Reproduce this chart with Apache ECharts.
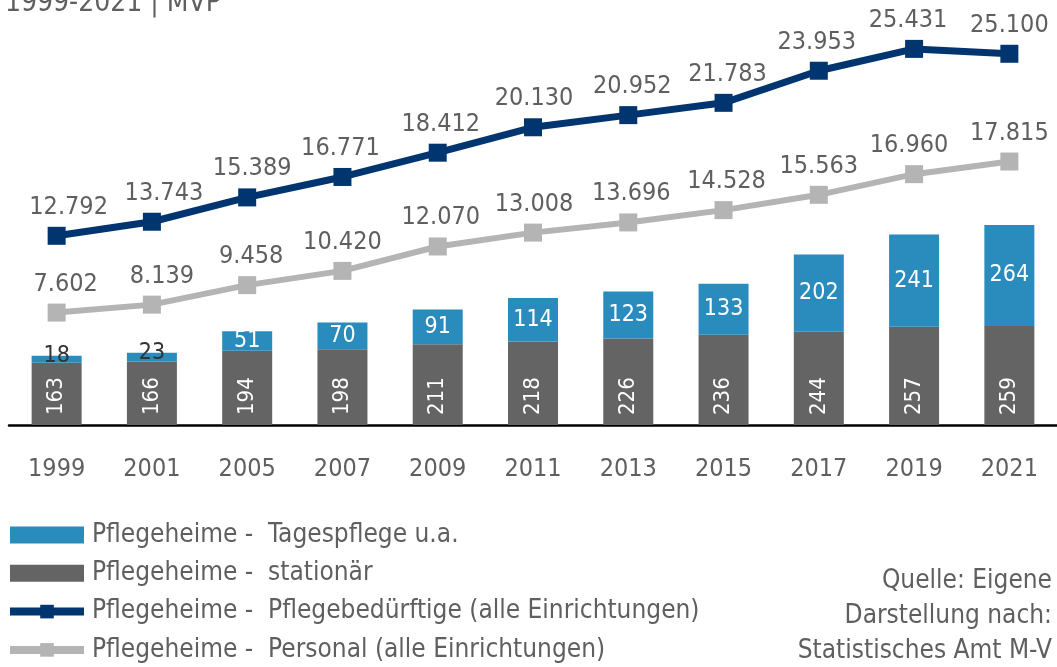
<!DOCTYPE html>
<html>
<head>
<meta charset="utf-8">
<script src="https://cdn.jsdelivr.net/npm/echarts@6/dist/echarts.min.js"></script>
<style>
  html, body { margin: 0; padding: 0; background: #fff; }
  #chart { width: 1057px; height: 667px; }
</style>
</head>
<body>
<div id="chart"></div>
<script>
// Daten
var years = ['1999', '2001', '2005', '2007', '2009', '2011', '2013', '2015', '2017', '2019', '2021'];
var stationaer = [163, 166, 194, 198, 211, 218, 226, 236, 244, 257, 259];
var tagespflege = [18, 23, 51, 70, 91, 114, 123, 133, 202, 241, 264];
var pflegebeduerftige = [12792, 13743, 15389, 16771, 18412, 20130, 20952, 21783, 23953, 25431, 25100];
var personal = [7602, 8139, 9458, 10420, 12070, 13008, 13696, 14528, 15563, 16960, 17815];
var quelle = ['Quelle: Eigene', 'Darstellung nach:', 'Statistisches Amt M-V'];

// kleine Verschiebung der Beschriftungen wie im Original
var shiftNavy = [12, 12, 5, -2, 3, 1, 4, 4, -2, -6, 0];
var shiftGrau = [9, 10, 4, 0, 3, 1, 3, 3, 0, -5, 0];

var FONT = '"DejaVu Sans Condensed", "DejaVu Sans", sans-serif';
var TXT = '#5f5f5f';

function fmt(v) {
  var s = String(v);
  return s.length > 3 ? s.slice(0, s.length - 3) + '.' + s.slice(s.length - 3) : s;
}

function withShift(values, shifts) {
  return values.map(function (v, i) {
    return { value: v, label: { offset: [shifts[i], 0] } };
  });
}

var myChart = echarts.init(document.getElementById('chart'));

var graphics = [
  {
    type: 'text',
    style: { x: 5, y: 18, text: '1999-2021 | MVP', font: '28px ' + FONT, fill: TXT, verticalAlign: 'bottom' }
  }
];
quelle.forEach(function (t, i) {
  graphics.push({
    type: 'text',
    style: { x: 1052, y: 581 + i * 35, text: t, font: '26px ' + FONT, fill: TXT, align: 'right', verticalAlign: 'middle' }
  });
});

var option = {
  animation: false,
  textStyle: { fontFamily: FONT },
  grid: { left: 9, right: 0, top: 0, bottom: 242 },
  legend: {
    orient: 'vertical',
    left: 6,
    top: 522,
    height: 200,
    padding: 0,
    itemWidth: 74,
    itemHeight: 17,
    itemGap: 12.3,
    textStyle: { fontFamily: FONT, fontSize: 26, lineHeight: 26, color: TXT, padding: [0, 0, 0, 3] },
    data: [
      { name: 'Pflegeheime -  Tagespflege u.a.', icon: 'rect' },
      { name: 'Pflegeheime -  stationär', icon: 'rect' },
      { name: 'Pflegeheime -  Pflegebedürftige (alle Einrichtungen)', lineStyle: { width: 8 } },
      { name: 'Pflegeheime -  Personal (alle Einrichtungen)', lineStyle: { width: 8 } }
    ]
  },
  graphic: graphics,
  xAxis: {
    type: 'category',
    data: years,
    axisLine: { lineStyle: { color: '#000', width: 2.5 } },
    axisTick: { alignWithLabel: true, length: 8, lineStyle: { color: '#000', width: 2.5 } },
    axisLabel: { fontFamily: FONT, fontSize: 25, color: TXT, margin: 32 }
  },
  yAxis: [
    { type: 'value', min: 0, max: 1111, show: false, splitLine: { show: false } },
    { type: 'value', min: 0, max: 28736, show: false, splitLine: { show: false } }
  ],
  series: [
    {
      name: 'Pflegeheime -  stationär',
      type: 'bar',
      stack: 'heime',
      barWidth: 50,
      data: stationaer,
      itemStyle: { color: '#646464' },
      label: {
        show: true,
        position: 'insideBottom',
        rotate: 90,
        align: 'left',
        verticalAlign: 'middle',
        distance: 10,
        color: '#fff',
        fontFamily: FONT,
        fontSize: 22
      }
    },
    {
      name: 'Pflegeheime -  Tagespflege u.a.',
      type: 'bar',
      stack: 'heime',
      barWidth: 50,
      data: tagespflege.map(function (v) {
        if (v < 40) {
          return { value: v, label: { position: 'top', distance: -12, color: '#333' } };
        }
        return v;
      }),
      itemStyle: { color: '#2a8bbd' },
      label: {
        show: true,
        position: 'inside',
        color: '#fff',
        fontFamily: FONT,
        fontSize: 23
      }
    },
    {
      name: 'Pflegeheime -  Pflegebedürftige (alle Einrichtungen)',
      type: 'line',
      yAxisIndex: 1,
      data: withShift(pflegebeduerftige, shiftNavy),
      symbol: 'rect',
      symbolSize: 18,
      lineStyle: { color: '#00356f', width: 7 },
      itemStyle: { color: '#00356f' },
      label: {
        show: true,
        position: 'top',
        distance: 7,
        color: TXT,
        fontFamily: FONT,
        fontSize: 25,
        formatter: function (p) { return fmt(p.value); }
      }
    },
    {
      name: 'Pflegeheime -  Personal (alle Einrichtungen)',
      type: 'line',
      yAxisIndex: 1,
      data: withShift(personal, shiftGrau),
      symbol: 'rect',
      symbolSize: 18,
      lineStyle: { color: '#b4b4b4', width: 6 },
      itemStyle: { color: '#b4b4b4' },
      label: {
        show: true,
        position: 'top',
        distance: 7,
        color: TXT,
        fontFamily: FONT,
        fontSize: 25,
        formatter: function (p) { return fmt(p.value); }
      }
    }
  ]
};

myChart.setOption(option);
</script>
</body>
</html>
